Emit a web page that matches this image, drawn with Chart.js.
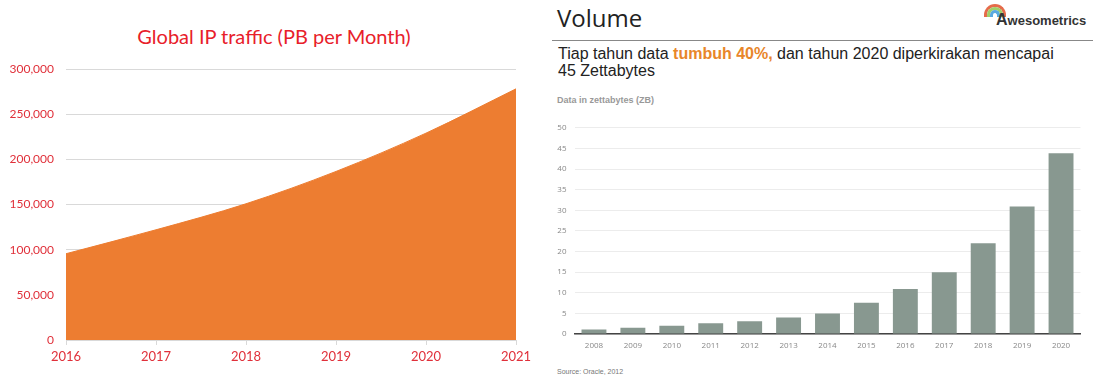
<!DOCTYPE html>
<html>
<head>
<meta charset="utf-8">
<script src="https://cdn.jsdelivr.net/npm/chart.js@4/dist/chart.umd.min.js"></script>
<style>
  body { margin: 0; width: 1093px; height: 378px; background: #fff; position: relative; overflow: hidden; font-family: "Liberation Sans", Arial, sans-serif; }
  .abs { position: absolute; }
  canvas { position: absolute; }
</style>
</head>
<body>
<div class="abs" style="left:0;width:548px;top:23px;text-align:center;font:20px Lato;line-height:26px;color:#e8202a">Global IP traffic (PB per Month)</div>
<canvas id="ip" width="540" height="378" style="left:0;top:0"></canvas>

<div class="abs" style="left:557px;top:6px;font:24px 'Open Sans';line-height:24px;color:#222">Volume</div>
<div class="abs" style="left:984px;top:4px;width:16px;height:10px;border:3px solid #e56b4a;border-bottom:0;border-radius:14px 14px 0 0"></div>
<div class="abs" style="left:987px;top:7px;width:10px;height:7px;border:3px solid #9fcf6a;border-bottom:0;border-radius:10px 10px 0 0"></div>
<div class="abs" style="left:990px;top:10px;width:4px;height:4px;border:3px solid #5aa9e0;border-bottom:0;border-radius:6px 6px 0 0"></div>
<div class="abs" style="left:996px;top:11px;font-weight:bold;font-size:13px;line-height:18px;color:#333"><span style="font-size:16px">A</span>wesometrics</div>
<div class="abs" style="left:552px;top:40px;width:541px;border-top:1.5px solid #888"></div>
<div class="abs" style="left:558px;top:45px;font-size:16px;line-height:17px;color:#222">Tiap tahun data <b style="color:#e8862a">tumbuh 40%,</b> dan tahun 2020 diperkirakan mencapai<br>45 Zettabytes</div>
<div class="abs" style="left:557px;top:94px;font-weight:bold;font-size:9px;line-height:12px;color:#999">Data in zettabytes (ZB)</div>
<canvas id="zb" width="545" height="245" style="left:548px;top:115px"></canvas>
<div class="abs" style="left:557px;top:367px;font-size:7px;line-height:10px;color:#777">Source: Oracle, 2012</div>

<script>
const ipYears = ['2016', '2017', '2018', '2019', '2020', '2021'];
const ipTraffic = [95500, 122000, 150800, 186600, 229000, 278000];

const zbYears = ['2008', '2009', '2010', '2011', '2012', '2013', '2014', '2015', '2016', '2017', '2018', '2019', '2020'];
const zbData = [1.1, 1.5, 2.0, 2.6, 3.1, 4.0, 5.0, 7.6, 10.9, 15.0, 22.0, 30.9, 43.8];

const red = '#e0303a';

new Chart(document.getElementById('ip'), {
  type: 'line',
  data: {
    labels: ipYears,
    datasets: [{
      data: ipTraffic,
      fill: 'origin',
      backgroundColor: '#ed7d31',
      borderColor: '#ed7d31',
      borderWidth: 1,
      pointRadius: 0,
      cubicInterpolationMode: 'monotone'
    }]
  },
  options: {
    responsive: false,
    animation: false,
    layout: { padding: { top: 69, right: 24, bottom: 0, left: 0 } },
    plugins: { legend: { display: false }, tooltip: { enabled: false } },
    scales: {
      x: {
        afterFit: s => { s.height = 38; },
        grid: { drawOnChartArea: false, drawTicks: true, tickLength: 5, color: '#d9d9d9' },
        border: { color: '#d9d9d9' },
        ticks: { color: red, padding: 4, maxRotation: 0, font: { family: 'Lato', size: 13 } }
      },
      y: {
        min: 0, max: 300000,
        afterFit: s => { s.width = 66; },
        grid: { color: '#d9d9d9', drawTicks: false },
        border: { display: false },
        ticks: {
          stepSize: 50000, color: red, padding: 12,
          font: { family: 'Lato', size: 12 },
          callback: v => v.toLocaleString('en-US')
        }
      }
    }
  }
});

new Chart(document.getElementById('zb'), {
  type: 'bar',
  data: {
    labels: zbYears,
    datasets: [{
      data: zbData,
      backgroundColor: '#889890',
      categoryPercentage: 1,
      barPercentage: 0.64
    }]
  },
  options: {
    responsive: false,
    animation: false,
    layout: { padding: { top: 10, right: 12.5, bottom: 0, left: 0 } },
    plugins: { legend: { display: false }, tooltip: { enabled: false } },
    scales: {
      x: {
        afterFit: s => { s.height = 26; },
        grid: { display: false, drawTicks: false },
        border: { color: '#444', width: 1.5 },
        ticks: { color: '#888', padding: 7, maxRotation: 0, font: { family: 'Open Sans', size: 8 } }
      },
      y: {
        min: 0, max: 50,
        afterFit: s => { s.width = 26.5; },
        grid: { color: '#ececec', drawTicks: false },
        border: { display: false },
        ticks: { stepSize: 5, color: '#888', padding: 8, font: { family: 'Open Sans', size: 8 } }
      }
    }
  }
});
</script>
</body>
</html>
